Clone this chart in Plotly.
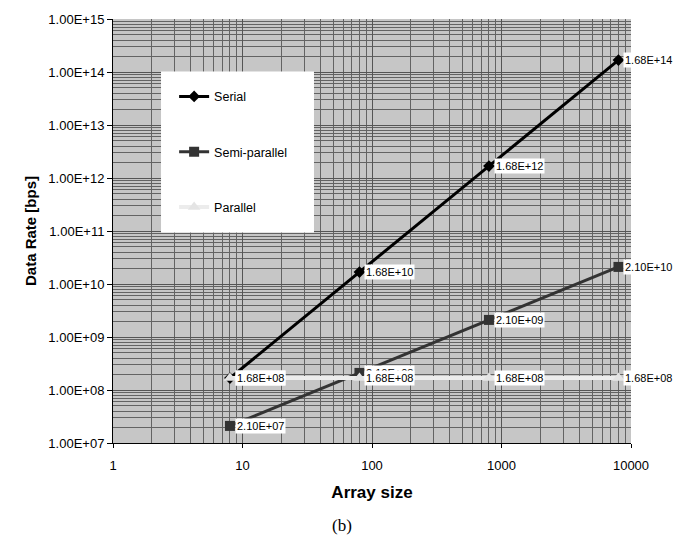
import math
import plotly.graph_objects as go

# ---- data ----
array_size = [8, 80, 800, 8000]
serial = [1.68e8, 1.68e10, 1.68e12, 1.68e14]
semi_parallel = [2.10e7, 2.10e8, 2.10e9, 2.10e10]
parallel = [1.68e8, 1.68e8, 1.68e8, 1.68e8]

serial_labels = ["1.68E+08", "1.68E+10", "1.68E+12", "1.68E+14"]
semi_labels = ["2.10E+07", "2.10E+08", "2.10E+09", "2.10E+10"]
parallel_labels = ["1.68E+08", "1.68E+08", "1.68E+08", "1.68E+08"]

y_tick_vals = [1e7, 1e8, 1e9, 1e10, 1e11, 1e12, 1e13, 1e14, 1e15]
y_tick_text = ["1.00E+07", "1.00E+08", "1.00E+09", "1.00E+10", "1.00E+11",
               "1.00E+12", "1.00E+13", "1.00E+14", "1.00E+15"]
x_tick_vals = [1, 10, 100, 1000, 10000]
x_tick_text = ["1", "10", "100", "1000", "10000"]

FONT = "Liberation Sans, Arial, sans-serif"

fig = go.Figure()

fig.add_trace(go.Scatter(
    x=array_size, y=serial, name="Serial", mode="lines+markers",
    line=dict(color="#000000", width=3),
    marker=dict(symbol="diamond", size=9, color="#000000"),
    legendgroup="a"))
fig.add_trace(go.Scatter(
    x=array_size, y=semi_parallel, name="Semi-parallel", mode="lines+markers",
    line=dict(color="#333333", width=3),
    marker=dict(symbol="square", size=10, color="#333333"),
    legendgroup="b"))
fig.add_trace(go.Scatter(
    x=array_size, y=parallel, name="Parallel", mode="lines+markers",
    line=dict(color="#ececec", width=4),
    marker=dict(symbol="triangle-up", size=11, color="#e4e4e4"),
    legendgroup="c"))

annotations = []
for xs, ys, labs in [(array_size, serial, serial_labels),
                     (array_size, semi_parallel, semi_labels),
                     (array_size, parallel, parallel_labels)]:
    for xv, yv, lab in zip(xs, ys, labs):
        annotations.append(dict(
            x=math.log10(xv), y=math.log10(yv), xref="x", yref="y",
            text=lab, showarrow=False, xanchor="left", yanchor="middle",
            xshift=5, bgcolor="#ffffff", borderpad=1,
            font=dict(family=FONT, size=11, color="#000000")))

annotations.append(dict(
    x=0.442, y=-0.194, xref="paper", yref="paper",
    xanchor="center", yanchor="middle",
    text="(b)", showarrow=False,
    font=dict(family="Liberation Serif, Times New Roman, serif", size=17, color="#000000")))

fig.update_layout(
    width=684, height=535,
    margin=dict(l=113, r=53, t=16, b=92),
    paper_bgcolor="#ffffff",
    plot_bgcolor="#c6c6c6",
    font=dict(family=FONT, size=12, color="#000000"),
    showlegend=True,
    legend=dict(x=0.118, y=0.852, xanchor="left", yanchor="top",
                bgcolor="rgba(0,0,0,0)", borderwidth=0,
                tracegroupgap=36, traceorder="grouped",
                font=dict(family=FONT, size=12.5, color="#000000")),
    annotations=annotations,
    shapes=[dict(type="rect", xref="paper", yref="paper",
                 x0=0.0927, x1=0.388, y0=0.4965, y1=0.876,
                 fillcolor="#ffffff", line=dict(width=0), layer="above")],
)

fig.update_xaxes(
    type="log", range=[0, 4],
    tickvals=x_tick_vals, ticktext=x_tick_text,
    ticks="outside", ticklen=4, tickcolor="#000000",
    ticklabelstandoff=6,
    showline=True, linecolor="#000000", linewidth=1,
    showgrid=True, gridcolor="#555555", gridwidth=1,
    minor=dict(dtick="D1", showgrid=True, gridcolor="#636363", gridwidth=1, ticks=""),
    zeroline=False,
    tickfont=dict(family=FONT, size=13, color="#000000"),
    title=dict(text="<b>Array size</b>", font=dict(family=FONT, size=17, color="#000000"),
               standoff=14),
)
fig.update_yaxes(
    type="log", range=[7, 15],
    tickvals=y_tick_vals, ticktext=y_tick_text,
    ticks="outside", ticklen=5, tickcolor="#000000",
    showline=True, linecolor="#000000", linewidth=1,
    showgrid=True, gridcolor="#555555", gridwidth=1,
    minor=dict(dtick="D1", showgrid=True, gridcolor="#636363", gridwidth=1, ticks=""),
    zeroline=False,
    tickfont=dict(family=FONT, size=13, color="#000000"),
    title=dict(text="<b>Data Rate [bps]</b>", font=dict(family=FONT, size=15, color="#000000"),
               standoff=8),
)

fig.write_html("out.html")
